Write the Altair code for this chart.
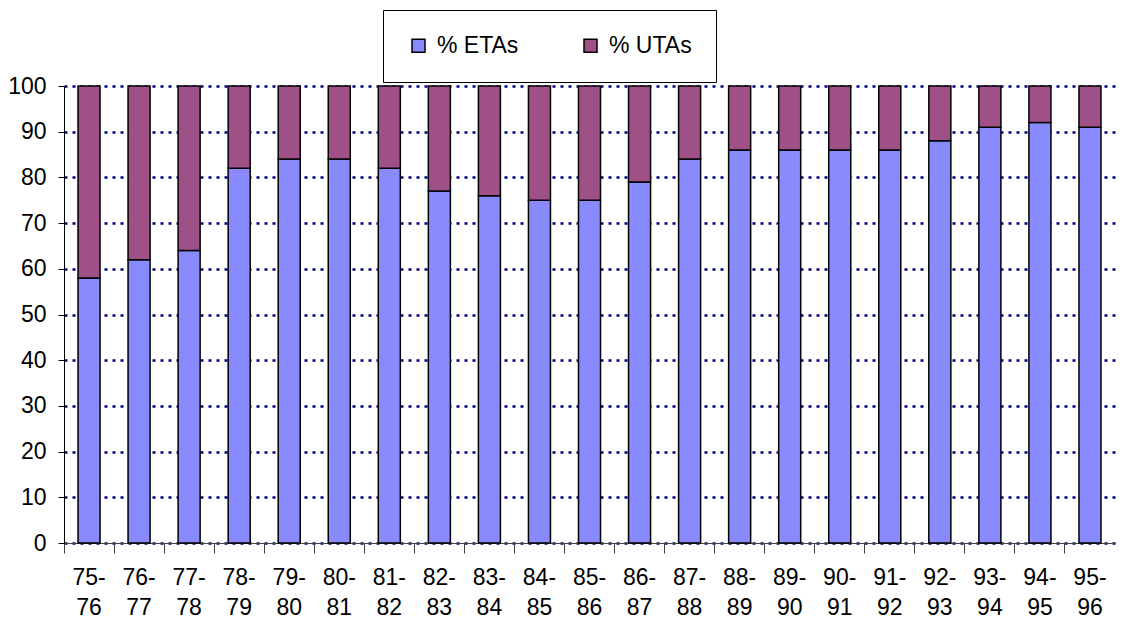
import altair as alt
import pandas as pd

periods = ["75-76", "76-77", "77-78", "78-79", "79-80", "80-81", "81-82", "82-83",
           "83-84", "84-85", "85-86", "86-87", "87-88", "88-89", "89-90", "90-91",
           "91-92", "92-93", "93-94", "94-95", "95-96"]
etas = [58, 62, 64, 82, 84, 84, 82, 77, 76, 75, 75, 79, 84, 86, 86, 86, 86, 88, 91, 92, 91]
utas = [100 - v for v in etas]
series = ["% ETAs", "% UTAs"]
colors = ["#8a8aff", "#9e5087"]

rows = []
for p, e, u in zip(periods, etas, utas):
    rows.append({"period": p, "series": series[0], "value": e, "order": 0})
    rows.append({"period": p, "series": series[1], "value": u, "order": 1})
df = pd.DataFrame(rows)

FONT = "Liberation Sans"
FS = 23

chart = alt.Chart(df).mark_bar(stroke="black", strokeWidth=1.5,
                               width=alt.RelativeBandSize(0.44)).encode(
    x=alt.X("period:N", sort=periods, title=None,
            scale=alt.Scale(paddingInner=0, paddingOuter=0),
            axis=alt.Axis(bandPosition=0, labelAngle=0, labelAlign="center",
                          labelExpr="[slice(datum.label,0,3), slice(datum.label,3)]",
                          labelLineHeight=30, labelPadding=13, labelBaseline="top",
                          tickSize=10, tickColor="#444", domainColor="#444",
                          labelFontSize=FS, labelFont=FONT, labelColor="black",
                          grid=False)),
    y=alt.Y("value:Q", stack="zero", title=None,
            scale=alt.Scale(domain=[0, 100], nice=False),
            axis=alt.Axis(values=list(range(0, 101, 10)), tickSize=6, tickColor="black",
                          domainColor="black", labelFontSize=FS, labelFont=FONT,
                          labelColor="black", labelPadding=12,
                          grid=True, gridColor="#000080", gridDash=[3, 5], gridWidth=2.5)),
    color=alt.Color("series:N", sort=series,
                    scale=alt.Scale(domain=series, range=colors),
                    legend=alt.Legend(title=None, orient="none", legendX=319, legendY=-76,
                                      direction="horizontal", columns=2,
                                      symbolType="square", symbolSize=169,
                                      symbolStrokeColor="black", symbolStrokeWidth=1.5,
                                      labelFontSize=FS, labelFont=FONT, labelColor="black",
                                      labelOffset=7,
                                      columnPadding=60, padding=24,
                                      strokeColor="black", fillColor="white")),
    order=alt.Order("order:Q"),
).properties(
    width=1051, height=457,
    autosize=alt.AutoSizeParams(type="none"),
    padding={"left": 56, "top": 78, "right": 4, "bottom": 80},
).configure_view(stroke=None)

chart.save("out.html", embed_options={"renderer": "svg", "actions": False})
